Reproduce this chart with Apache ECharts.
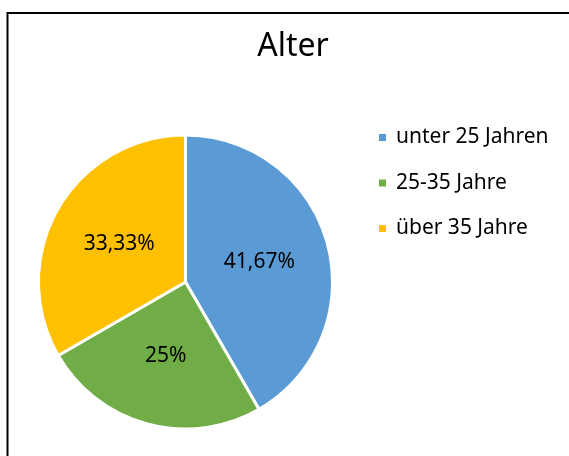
<!DOCTYPE html>
<html>
<head>
<meta charset="utf-8">
<script src="https://cdn.jsdelivr.net/npm/echarts@6/dist/echarts.min.js"></script>
<style>
    html, body { margin: 0; padding: 0; background: #fff; }
    #chart { width: 569px; height: 456px; }
</style>
</head>
<body>
<div id="chart"></div>
<script>
    var categories = ['unter 25 Jahren', '25-35 Jahre', 'über 35 Jahre'];
    var counts = [5, 3, 4];
    var colors = ['#5B9BD5', '#70AD47', '#FFC000'];

    var pieData = [];
    for (var i = 0; i < categories.length; i++) {
        pieData.push({ value: counts[i], name: categories[i], itemStyle: { color: colors[i] } });
    }

    // percentage in German notation: 41,67% / 25%
    function fmtPercent(p) {
        var v = Math.round(p * 100) / 100;
        var s = (v % 1 === 0) ? String(v) : v.toFixed(2);
        return s.replace('.', ',') + '%';
    }

    var myChart = echarts.init(document.getElementById('chart'));
    var option = {
        backgroundColor: '#fff',
        animation: false,
        graphic: [
            {
                type: 'rect',
                shape: { x: 7.5, y: 13, width: 600, height: 500 },
                style: { fill: 'none', stroke: '#000', lineWidth: 2 }
            }
        ],
        title: {
            text: 'Alter',
            left: 288,
            textAlign: 'center',
            top: 26,
            textStyle: {
                fontFamily: 'Noto Sans',
                fontSize: 32,
                fontWeight: 'normal',
                color: '#000'
            }
        },
        legend: {
            orient: 'vertical',
            left: 377,
            top: 127,
            padding: 0,
            itemWidth: 9,
            itemHeight: 9,
            itemGap: 24.5,
            icon: 'rect',
            data: categories,
            textStyle: {
                fontFamily: 'Noto Sans',
                fontSize: 21,
                lineHeight: 21,
                color: '#000',
                padding: [0, 0, 0, 4]
            }
        },
        series: [
            {
                name: 'Alter',
                type: 'pie',
                center: [185.5, 282],
                radius: 147,
                startAngle: 90,
                clockwise: true,
                data: pieData,
                itemStyle: {
                    borderColor: '#fff',
                    borderWidth: 3
                },
                label: {
                    show: true,
                    position: 'inside',
                    fontFamily: 'Noto Sans',
                    fontSize: 21,
                    padding: [4, 0, 0, 0],
                    color: '#000',
                    formatter: function (p) {
                        return fmtPercent(p.percent);
                    }
                },
                labelLine: { show: false },
                emphasis: { disabled: true }
            }
        ]
    };
    myChart.setOption(option);
</script>
</body>
</html>
